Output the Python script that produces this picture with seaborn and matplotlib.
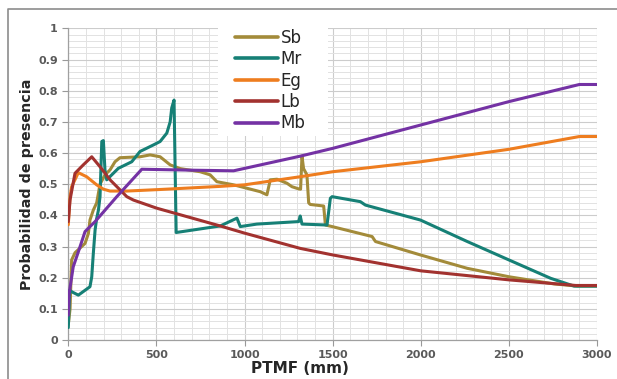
import matplotlib
matplotlib.use("Agg")
import matplotlib.pyplot as plt
from matplotlib.patches import Rectangle
from matplotlib.lines import Line2D
import seaborn as sns
import pandas as pd
import numpy as np

# values (x = PTMF in mm, y = probability)
sb_x = [0, 10, 19, 38, 57, 95, 114, 123, 142, 161, 180, 208, 237, 265, 293, 407, 464, 521, 578, 635,
        748, 805, 843, 938, 1089, 1127, 1146, 1184, 1241, 1269, 1307, 1318, 1326, 1335, 1354, 1364,
        1373, 1449, 1459, 1497, 1724, 1743, 1998, 2264, 2500, 2756, 2889, 3000]
sb_y = [0.05, 0.10, 0.257, 0.28, 0.29, 0.31, 0.342, 0.385, 0.417, 0.44, 0.50, 0.53, 0.546, 0.572, 0.585,
        0.588, 0.594, 0.588, 0.562, 0.55, 0.54, 0.53, 0.508, 0.498, 0.476, 0.466, 0.514, 0.516, 0.503,
        0.492, 0.485, 0.484, 0.59, 0.55, 0.53, 0.44, 0.435, 0.43, 0.369, 0.364, 0.332, 0.316, 0.273,
        0.230, 0.203, 0.18, 0.173, 0.173]

mr_x = [0, 8, 19, 57, 123, 133, 142, 152, 161, 171, 180, 190, 199, 208, 218, 284, 360, 407, 483, 521,
        559, 578, 587, 600, 612, 862, 957, 976, 1070, 1307, 1316, 1326, 1468, 1487, 1497, 1657, 1686,
        1998, 2264, 2500, 2737, 2870, 3000]
mr_y = [0.04, 0.16, 0.155, 0.144, 0.171, 0.203, 0.278, 0.353, 0.39, 0.417, 0.46, 0.637, 0.64, 0.546,
        0.514, 0.551, 0.572, 0.605, 0.626, 0.637, 0.664, 0.70, 0.745, 0.77, 0.345, 0.366, 0.391, 0.364,
        0.372, 0.380, 0.398, 0.372, 0.369, 0.455, 0.46, 0.444, 0.433, 0.385, 0.316, 0.257, 0.198, 0.173,
        0.173]

eg_x = [0, 10, 19, 57, 104, 161, 199, 237, 332, 521, 862, 1000, 1316, 1500, 2000, 2500, 2900, 3000]
eg_y = [0.37, 0.46, 0.492, 0.537, 0.524, 0.498, 0.484, 0.478, 0.478, 0.483, 0.493, 0.498, 0.524,
        0.540, 0.572, 0.612, 0.653, 0.653]

lb_x = [0, 10, 38, 85, 133, 180, 237, 332, 370, 502, 862, 1000, 1316, 1500, 2000, 2500, 2880, 3000]
lb_y = [0.38, 0.45, 0.535, 0.562, 0.588, 0.556, 0.514, 0.46, 0.449, 0.423, 0.366, 0.343, 0.294,
        0.273, 0.222, 0.193, 0.175, 0.175]

mb_x = [0, 5, 28, 57, 95, 152, 275, 417, 700, 938, 1316, 1500, 2000, 2500, 2900, 3000]
mb_y = [0.08, 0.15, 0.235, 0.283, 0.348, 0.38, 0.46, 0.548, 0.545, 0.543, 0.59, 0.615, 0.69, 0.765,
        0.82, 0.82]

series_names = ["Sb", "Mr", "Eg", "Lb", "Mb"]
series_colors = ["#A38B3A", "#168076", "#EE7D1F", "#A2322F", "#7432A4"]

x_ticks = [0, 500, 1000, 1500, 2000, 2500, 3000]
y_ticks = [0, 0.1, 0.2, 0.3, 0.4, 0.5, 0.6, 0.7, 0.8, 0.9, 1]
y_tick_labels = ["0", "0.1", "0.2", "0.3", "0.4", "0.5", "0.6", "0.7", "0.8", "0.9", "1"]

frames = []
for name, xs, ys in zip(series_names, [sb_x, mr_x, eg_x, lb_x, mb_x], [sb_y, mr_y, eg_y, lb_y, mb_y]):
    frames.append(pd.DataFrame({"PTMF": xs, "prob": ys, "serie": name}))
df = pd.concat(frames, ignore_index=True)

sns.set_style("white")
plt.rcParams['font.family'] = ['DejaVu Sans']

fig = plt.figure(figsize=(6.17, 3.79), dpi=100)
ax = fig.add_axes([68.3 / 617, 1 - 340 / 379, (597 - 68.3) / 617, (340 - 28.4) / 379])

ax = sns.lineplot(data=df, x="PTMF", y="prob", hue="serie", hue_order=series_names,
                  palette=series_colors, estimator=None, sort=False, linewidth=2.2, ax=ax, zorder=3)

ax.set_xlim(0, 3000)
ax.set_ylim(0, 1)
ax.set_xticks(x_ticks)
ax.set_yticks(y_ticks)
ax.set_yticklabels(y_tick_labels)
ax.set_xticks(np.arange(0, 3001, 100), minor=True)
ax.set_yticks(np.arange(0, 1.001, 0.02), minor=True)
ax.grid(which="major", color="#cccccc", linewidth=0.8)
ax.grid(which="minor", color="#e2e2e2", linewidth=0.7)
ax.set_axisbelow(True)

ax.tick_params(axis="both", which="major", labelsize=8, labelcolor="#595959", color="#999999",
               length=4, width=0.8, direction="out", bottom=True, left=True)
ax.tick_params(axis="both", which="minor", length=0)
for lab in ax.get_xticklabels() + ax.get_yticklabels():
    lab.set_fontweight("bold")
for s in ["top", "right"]:
    ax.spines[s].set_visible(False)
for s in ["left", "bottom"]:
    ax.spines[s].set_color("#a0a0a0")
    ax.spines[s].set_linewidth(0.9)

ax.set_xlabel("PTMF (mm)", fontweight="bold", fontsize=11)
ax.set_ylabel("Probabilidad de presencia", fontweight="bold", fontsize=10.3)
ax.xaxis.set_label_coords((300 - 68.3) / (597 - 68.3), -(361 - 340) / (340 - 28.4))
ax.yaxis.set_label_coords(-(68.3 - 34) / (597 - 68.3), 0.5)

# white box behind the legend
ax.add_patch(Rectangle((2.18, (379 - 136) / 100), 1.10, 1.36, transform=fig.dpi_scale_trans,
                       facecolor="white", edgecolor="none", zorder=1))
leg = ax.legend(loc="upper left", bbox_to_anchor=(235 / 617, 1 - 29 / 379), bbox_transform=fig.transFigure,
                frameon=False, fontsize=12, handlelength=2.6, handletextpad=0.15, labelspacing=0.2,
                borderpad=0, borderaxespad=0)
for line in leg.get_lines():
    line.set_linewidth(2.6)

# chart border
fig.add_artist(Line2D([8 / 617, 8 / 617, 1], [0, 1 - 9 / 379, 1 - 9 / 379], color="#8c8c8c",
                      linewidth=1.2, transform=fig.transFigure))

plt.savefig("out.png", dpi=100)
